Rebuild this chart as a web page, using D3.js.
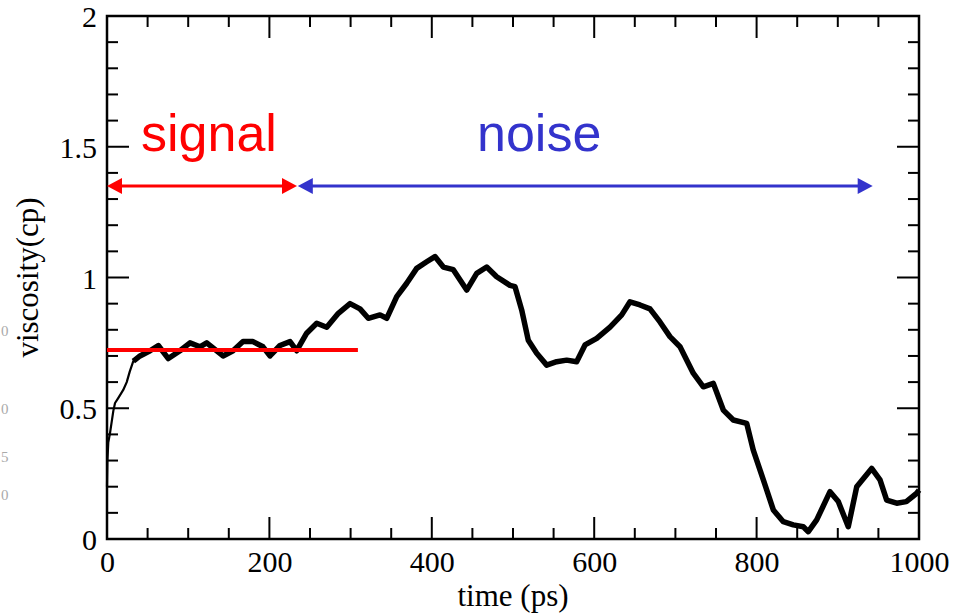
<!DOCTYPE html>
<html>
<head>
<meta charset="utf-8">
<script src="https://cdn.jsdelivr.net/npm/d3@7"></script>
<style>
  body { margin: 0; background: #fff; }
  svg { display: block; }
</style>
</head>
<body>
<div id="root"></div>
<script>
// (time in ps, viscosity in cp)
const timePs = [0, 0.5, 1.6, 3.7, 7.8, 9.9, 14, 20, 24.3, 28, 32.4, 34.5, 40.6, 53, 63.2, 75.5, 89.9, 102.2, 114.5, 122.8,
    142.9, 155.2, 167.5, 179.8, 192.1, 200.7, 213, 225.4, 233.6, 245.9, 258.3, 270.6, 284.9, 299.3, 311.6, 321.8, 336.2,
    344.5, 356.8, 369.1, 381.4, 393.7, 403.9, 414.2, 426.5, 443, 455.3, 467.6, 479.9, 496.3, 502.5, 510.7, 518.8, 529.2,
    541.5, 553.8, 566.1, 578.4, 588.7, 603.1, 619.5, 633.9, 644.1, 656.4, 668.7, 681, 693.3, 705.7, 722, 734.4, 746.7,
    759, 771.3, 787.8, 795.9, 808.3, 820.6, 832.9, 845.2, 857.5, 863.7, 874, 890.4, 900.6, 912.9, 923.3, 941.7, 952,
    960.2, 972.5, 984.4, 997.2, 1000]
const viscosity = [0.2, 0.3, 0.37, 0.405, 0.49, 0.52, 0.54, 0.57, 0.60, 0.64, 0.68, 0.685, 0.70, 0.72, 0.74, 0.69, 0.72,
    0.75, 0.735, 0.75, 0.70, 0.72, 0.755, 0.755, 0.735, 0.70, 0.74, 0.755, 0.72, 0.787, 0.825, 0.81, 0.863, 0.90, 0.88,
    0.844, 0.857, 0.844, 0.927, 0.978, 1.035, 1.06, 1.08, 1.04, 1.03, 0.952, 1.016, 1.04, 1.003, 0.97, 0.965, 0.876,
    0.76, 0.71, 0.665, 0.678, 0.684, 0.678, 0.742, 0.767, 0.81, 0.857, 0.907, 0.895, 0.88, 0.83, 0.774, 0.735, 0.634,
    0.582, 0.595, 0.493, 0.455, 0.442, 0.34, 0.226, 0.111, 0.066, 0.054, 0.047, 0.028, 0.073, 0.181, 0.143, 0.047,
    0.20, 0.27, 0.226, 0.149, 0.137, 0.143, 0.175, 0.187]

const xMajor = [0, 200, 400, 600, 800, 1000]
const xLabels = ['0', '200', '400', '600', '800', '1000']
const yMajor = [0, 0.5, 1, 1.5, 2]
const yLabels = ['0', '0.5', '1', '1.5', '2']

// annotations
const signalRange = [0, 234]
const noiseRange = [235, 943]
const arrowLevel = 1.35
const fitValue = 0.723
const fitRange = [0, 309]

const width = 960
const height = 616
const margin = { left: 107, right: 41, top: 16, bottom: 77 }

const svg = d3.select('#root').append('svg').attr('width', width).attr('height', height)

const x = d3.scaleLinear().domain([0, 1000]).range([margin.left, width - margin.right])
const y = d3.scaleLinear().domain([0, 2]).range([height - margin.bottom, margin.top])

const serif = '"Liberation Serif", "Times New Roman", serif'
const sans = '"Liberation Sans", Arial, sans-serif'

// ticks (inside, all four sides)
const xMinor = d3.range(0, 1001, 50).filter(d => d % 200 !== 0)
const yMinor = d3.range(0, 21, 1).map(d => d / 10).filter(d => Math.round(d * 10) % 5 !== 0)

const bottomAx = d3.axisBottom(x).tickValues(xMajor).tickFormat((d, i) => xLabels[i]).tickSize(0).tickPadding(0)
svg.append('g').attr('transform', `translate(0,${y(0)})`).call(bottomAx)
    .call(g => g.select('.domain').remove())
    .selectAll('text').attr('dy', null).attr('y', 33)
    .style('font-family', serif).style('font-size', '30px').attr('fill', '#000')

const leftAx = d3.axisLeft(y).tickValues(yMajor).tickFormat((d, i) => yLabels[i]).tickSize(0).tickPadding(10)
svg.append('g').attr('transform', `translate(${x(0)},0)`).call(leftAx)
    .call(g => g.select('.domain').remove())
    .selectAll('text').attr('dy', '0.35em')
    .style('font-family', serif).style('font-size', '30px').attr('fill', '#000')

const tickG = svg.append('g').attr('stroke', '#000').attr('stroke-width', 2)
const drawX = (vals, len) => {
    vals.forEach(v => {
        tickG.append('line').attr('x1', x(v)).attr('x2', x(v)).attr('y1', y(0)).attr('y2', y(0) - len)
        tickG.append('line').attr('x1', x(v)).attr('x2', x(v)).attr('y1', y(2)).attr('y2', y(2) + len)
    })
}
const drawY = (vals, len) => {
    vals.forEach(v => {
        tickG.append('line').attr('y1', y(v)).attr('y2', y(v)).attr('x1', x(0)).attr('x2', x(0) + len)
        tickG.append('line').attr('y1', y(v)).attr('y2', y(v)).attr('x1', x(1000)).attr('x2', x(1000) - len)
    })
}
drawX(xMajor, 22)
drawX(xMinor, 11)
drawY(yMajor, 22)
drawY(yMinor, 11)

// frame
svg.append('rect').attr('x', x(0)).attr('y', y(2)).attr('width', x(1000) - x(0)).attr('height', y(0) - y(2))
    .attr('fill', 'none').attr('stroke', '#000').attr('stroke-width', 2.5)

// trace
const pts = timePs.map((t, i) => [t, viscosity[i]])
const line = d3.line().x(d => x(d[0])).y(d => y(d[1]))
svg.append('path').datum(pts.filter(d => d[0] <= 34.5)).attr('d', line)
    .attr('fill', 'none').attr('stroke', '#000').attr('stroke-width', 2.2).attr('stroke-linejoin', 'round')
svg.append('path').datum(pts.filter(d => d[0] >= 32.4)).attr('d', line)
    .attr('fill', 'none').attr('stroke', '#000').attr('stroke-width', 5.5).attr('stroke-linejoin', 'round')

// fitted plateau
svg.append('line').attr('x1', x(fitRange[0])).attr('x2', x(fitRange[1])).attr('y1', y(fitValue)).attr('y2', y(fitValue))
    .attr('stroke', '#ff0000').attr('stroke-width', 4)

// double arrows
const arrow = (range, color) => {
    const a = x(range[0]), b = x(range[1]), yy = y(arrowLevel)
    const hl = 15, hw = 8
    svg.append('line').attr('x1', a + 4).attr('x2', b - 4).attr('y1', yy).attr('y2', yy)
        .attr('stroke', color).attr('stroke-width', 3)
    svg.append('path').attr('d', `M${a},${yy}L${a + hl},${yy - hw}L${a + hl},${yy + hw}Z`).attr('fill', color)
    svg.append('path').attr('d', `M${b},${yy}L${b - hl},${yy - hw}L${b - hl},${yy + hw}Z`).attr('fill', color)
}
arrow(signalRange, '#ff0000')
arrow(noiseRange, '#3333cc')

svg.append('text').attr('x', 141).attr('y', 151).text('signal')
    .style('font-family', sans).style('font-size', '52px').attr('fill', '#ff0000')
svg.append('text').attr('x', 477).attr('y', 151).text('noise')
    .style('font-family', sans).style('font-size', '52px').attr('fill', '#3333cc')

// axis titles
svg.append('text').attr('x', (x(0) + x(1000)) / 2).attr('y', 606).attr('text-anchor', 'middle')
    .text('time (ps)').style('font-family', serif).style('font-size', '31px')
svg.append('text').attr('transform', `translate(38,${(y(0) + y(2)) / 2}) rotate(-90)`).attr('text-anchor', 'middle')
    .text('viscosity(cp)').style('font-family', serif).style('font-size', '31px')

// faint leftovers at the left edge of the scan
const ghost = [['0', 336], ['0', 414], ['5', 462], ['0', 500]]
ghost.forEach(g => {
    svg.append('text').attr('x', 1).attr('y', g[1]).text(g[0])
        .style('font-family', serif).style('font-size', '15px').attr('fill', '#aaaaaa')
})
</script>
</body>
</html>
